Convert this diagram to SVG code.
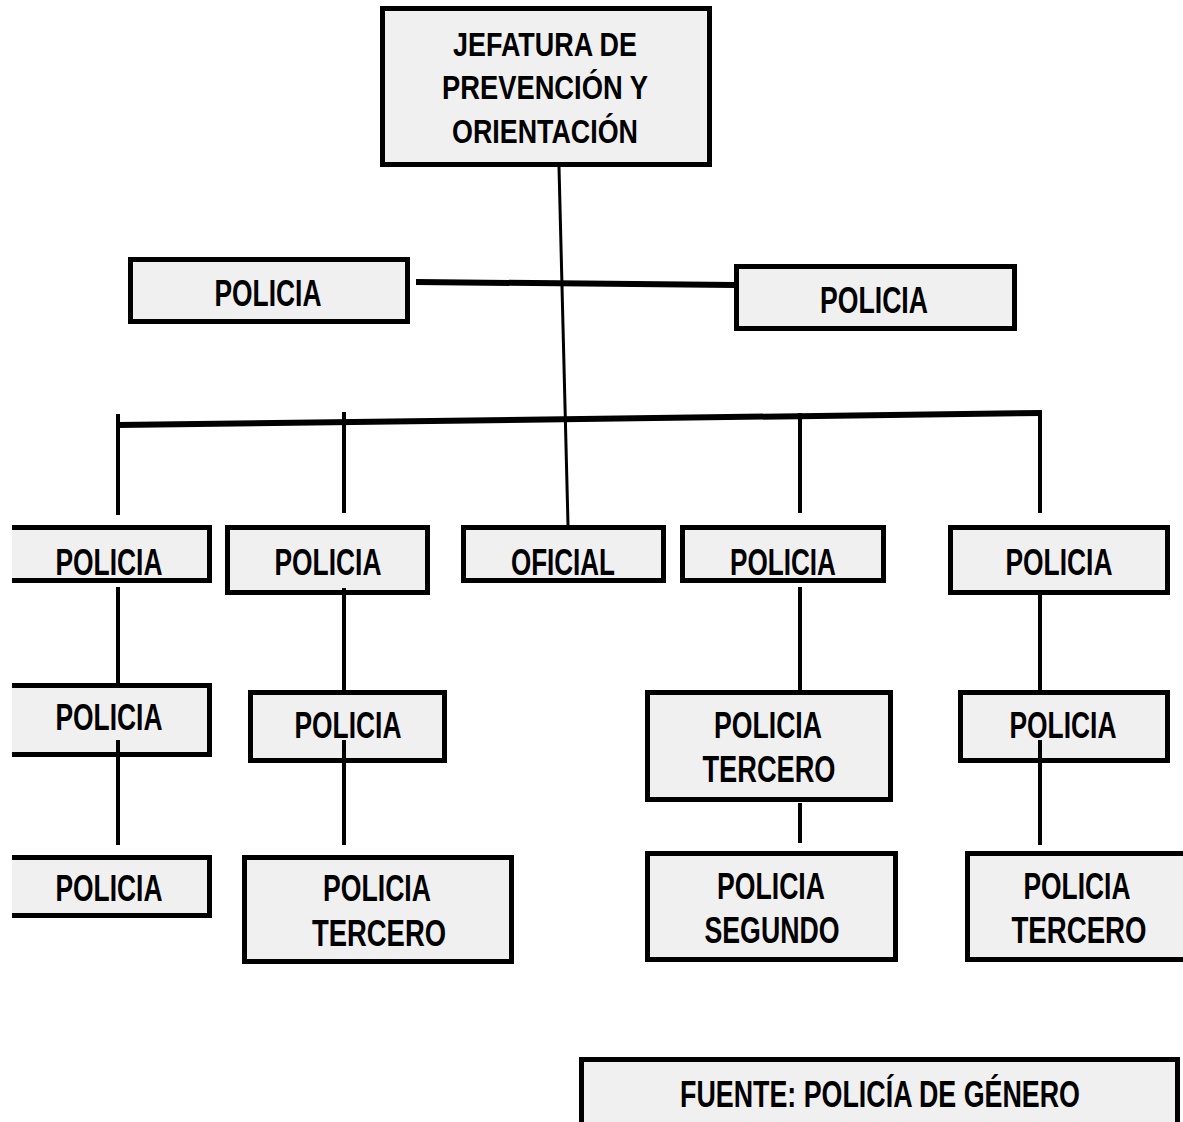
<svg xmlns="http://www.w3.org/2000/svg" width="1183" height="1122" viewBox="0 0 1183 1122">
<style>
.b{fill:#f0f0f0;stroke:#000;stroke-width:5}
.o{fill:none;stroke:#000;stroke-width:5}
.f{fill:#f0f0f0}
.t{font-family:"Liberation Sans",Arial,sans-serif;font-weight:bold;font-size:36px;fill:#000;text-anchor:middle}
.h{font-size:33px}
.c line{stroke:#000;stroke-width:4;stroke-linecap:butt}
</style>
<rect width="1183" height="1122" fill="#fff"/>
<g id="n-jefatura"><rect class="b" x="382.5" y="8.5" width="327" height="156"/>
<text class="t h" x="545" y="56" textLength="184" lengthAdjust="spacingAndGlyphs">JEFATURA DE</text>
<text class="t h" x="545" y="99" textLength="206" lengthAdjust="spacingAndGlyphs">PREVENCIÓN Y</text>
<text class="t h" x="545" y="143" textLength="186" lengthAdjust="spacingAndGlyphs">ORIENTACIÓN</text></g>
<g id="n-pol-l"><rect class="b" x="130.5" y="259.5" width="277" height="62"/>
<text class="t" x="268" y="306" textLength="107" lengthAdjust="spacingAndGlyphs">POLICIA</text></g>
<g id="n-pol-r"><rect class="b" x="736.5" y="266.5" width="278" height="62"/>
<text class="t" x="874" y="313" textLength="108" lengthAdjust="spacingAndGlyphs">POLICIA</text></g>
<g id="n-r1c1"><rect class="f" x="12" y="527.5" width="197.5" height="53"/><path class="o" d="M12,527.5H209.5V580.5H12"/>
<text class="t" x="109" y="575" textLength="107" lengthAdjust="spacingAndGlyphs">POLICIA</text></g>
<g id="n-r1c2"><rect class="b" x="227.5" y="527.5" width="200" height="65"/>
<text class="t" x="328" y="575" textLength="107" lengthAdjust="spacingAndGlyphs">POLICIA</text></g>
<g id="n-oficial"><rect class="b" x="463.5" y="527.5" width="200" height="53"/>
<text class="t" x="563" y="575" textLength="104" lengthAdjust="spacingAndGlyphs">OFICIAL</text></g>
<g id="n-r1c4"><rect class="b" x="682.5" y="527.5" width="201" height="53"/>
<text class="t" x="783" y="575" textLength="106" lengthAdjust="spacingAndGlyphs">POLICIA</text></g>
<g id="n-r1c5"><rect class="b" x="950.5" y="527.5" width="217" height="65"/>
<text class="t" x="1059" y="575" textLength="107" lengthAdjust="spacingAndGlyphs">POLICIA</text></g>
<g id="n-r2c1"><rect class="f" x="12" y="685.5" width="197.5" height="69"/><path class="o" d="M12,685.5H209.5V754.5H12"/>
<text class="t" x="109" y="730" textLength="107" lengthAdjust="spacingAndGlyphs">POLICIA</text></g>
<g id="n-r2c2"><rect class="b" x="250.5" y="692.5" width="194" height="68"/>
<text class="t" x="348" y="738" textLength="107" lengthAdjust="spacingAndGlyphs">POLICIA</text></g>
<g id="n-r2c4"><rect class="b" x="647.5" y="692.5" width="243" height="107"/>
<text class="t" x="768" y="738" textLength="108" lengthAdjust="spacingAndGlyphs">POLICIA</text>
<text class="t" x="769" y="782" textLength="133" lengthAdjust="spacingAndGlyphs">TERCERO</text></g>
<g id="n-r2c5"><rect class="b" x="960.5" y="692.5" width="207" height="68"/>
<text class="t" x="1063" y="738" textLength="107" lengthAdjust="spacingAndGlyphs">POLICIA</text></g>
<g id="n-r3c1"><rect class="f" x="12" y="857.5" width="197.5" height="58"/><path class="o" d="M12,857.5H209.5V915.5H12"/>
<text class="t" x="109" y="901" textLength="107" lengthAdjust="spacingAndGlyphs">POLICIA</text></g>
<g id="n-r3c2"><rect class="b" x="244.5" y="857.5" width="267" height="104"/>
<text class="t" x="377" y="901" textLength="108" lengthAdjust="spacingAndGlyphs">POLICIA</text>
<text class="t" x="379" y="946" textLength="134" lengthAdjust="spacingAndGlyphs">TERCERO</text></g>
<g id="n-r3c4"><rect class="b" x="647.5" y="853.5" width="248" height="106"/>
<text class="t" x="771" y="899" textLength="108" lengthAdjust="spacingAndGlyphs">POLICIA</text>
<text class="t" x="772" y="943" textLength="135" lengthAdjust="spacingAndGlyphs">SEGUNDO</text></g>
<g id="n-r3c5"><rect class="f" x="967.5" y="853.5" width="215.5" height="106"/><path class="o" d="M1183,853.5H967.5V959.5H1183"/>
<text class="t" x="1077" y="899" textLength="107" lengthAdjust="spacingAndGlyphs">POLICIA</text>
<text class="t" x="1079" y="943" textLength="135" lengthAdjust="spacingAndGlyphs">TERCERO</text></g>
<g id="n-fuente"><rect class="f" x="581.5" y="1059.5" width="596" height="62.5"/><path class="o" d="M581.5,1122V1059.5H1177.5V1122"/>
<text class="t" x="880" y="1107" textLength="400" lengthAdjust="spacingAndGlyphs">FUENTE: POLICÍA DE GÉNERO</text></g>
<g id="connectors" class="c">
<line x1="559" y1="167" x2="568" y2="525" style="stroke-width:3"/>
<line x1="416" y1="282" x2="735" y2="285" style="stroke-width:6"/>
<line x1="118" y1="425" x2="1042" y2="413" style="stroke-width:6"/>
<line x1="118" y1="414" x2="118" y2="515"/>
<line x1="344" y1="412" x2="344" y2="513"/>
<line x1="800" y1="413" x2="800" y2="513"/>
<line x1="1040" y1="411" x2="1040" y2="513"/>
<line x1="118" y1="587" x2="118" y2="683"/>
<line x1="118" y1="740" x2="118" y2="845"/>
<line x1="344" y1="588" x2="344" y2="690"/>
<line x1="344" y1="740" x2="344" y2="845"/>
<line x1="800" y1="587" x2="800" y2="690"/>
<line x1="800" y1="803" x2="800" y2="843"/>
<line x1="1040" y1="595" x2="1040" y2="690"/>
<line x1="1040" y1="740" x2="1040" y2="845"/>
</g>
</svg>
